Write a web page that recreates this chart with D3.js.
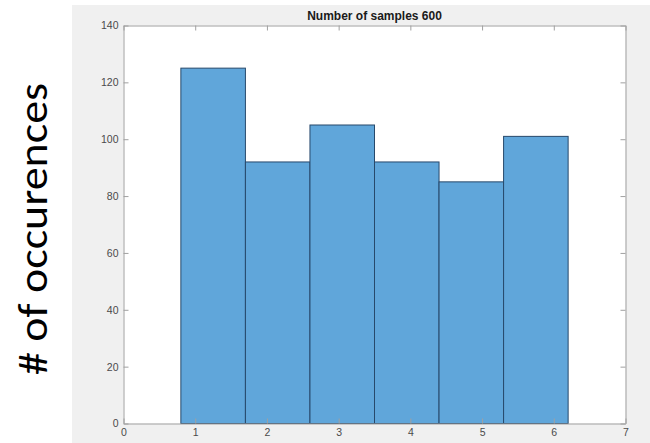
<!DOCTYPE html>
<html>
<head>
<meta charset="utf-8">
<script src="https://cdn.jsdelivr.net/npm/d3@7"></script>
<style>
  body { margin: 0; background: #fff; }
  .tick text { font-family: "Liberation Sans", Arial, sans-serif; font-size: 10.5px; fill: #4a4a4a; }
  .domain, .tick line { stroke: #a0a0a0; }
</style>
</head>
<body>
<div class="box"></div>
<script>
// Histogram data
const binEdges = [0.8, 1.7, 2.6, 3.5, 4.4, 5.3, 6.2];
const counts = [125, 92, 105, 92, 85, 101];
const xTicks = [0, 1, 2, 3, 4, 5, 6, 7];
const yTicks = [0, 20, 40, 60, 80, 100, 120, 140];
const titleText = "Number of samples 600";
const yLabel = "# of occurences";

const w = 650;
const h = 443;
// plot box edges (note: "top" is taken by window.top)
const padL = 123.5, padR = 625.5, padT = 25.5, padB = 423.5;

const bins = counts.map((c, i) => ({ x0: binEdges[i], x1: binEdges[i + 1], n: c }));

const xScale = d3.scaleLinear().domain([0, 7]).range([padL, padR]);
const yScale = d3.scaleLinear().domain([0, 140]).range([padB, padT]);

const svg = d3.select(".box")
    .append("svg")
    .attr("width", w)
    .attr("height", h);

// grey figure background
svg.append("rect")
    .attr("x", 72).attr("y", 5)
    .attr("width", w - 72).attr("height", h - 5)
    .style("fill", "#f0f0f0");

// white axes area
svg.append("rect")
    .attr("x", padL).attr("y", padT)
    .attr("width", padR - padL).attr("height", padB - padT)
    .style("fill", "#fff");

// bars
svg.selectAll("rect.bar")
    .data(bins)
    .enter()
    .append("rect")
    .attr("class", "bar")
    .attr("x", d => xScale(d.x0))
    .attr("y", d => yScale(d.n))
    .attr("width", d => xScale(d.x1) - xScale(d.x0))
    .attr("height", d => yScale(0) - yScale(d.n))
    .style("fill", "#60a6da")
    .style("stroke", "#27496b")
    .style("stroke-width", 1);

// axes, ticks pointing inward like matlab
svg.append("g")
    .attr("transform", "translate(0," + padB + ")")
    .call(d3.axisBottom(xScale).tickValues(xTicks).tickFormat(d3.format("d"))
        .tickSizeInner(-5).tickSizeOuter(0).tickPadding(5));

svg.append("g")
    .attr("transform", "translate(0," + padT + ")")
    .call(d3.axisTop(xScale).tickValues(xTicks).tickSizeInner(-5).tickSizeOuter(0).tickFormat(""));

svg.append("g")
    .attr("transform", "translate(" + padL + ",0)")
    .call(d3.axisLeft(yScale).tickValues(yTicks).tickFormat(d3.format("d"))
        .tickSizeInner(-5).tickSizeOuter(0).tickPadding(5));

svg.append("g")
    .attr("transform", "translate(" + padR + ",0)")
    .call(d3.axisRight(yScale).tickValues(yTicks).tickSizeInner(-5).tickSizeOuter(0).tickFormat(""));

svg.selectAll(".domain").style("fill", "none");

// title
svg.append("text")
    .attr("x", (padL + padR) / 2)
    .attr("y", 20)
    .attr("text-anchor", "middle")
    .style("font-family", "Liberation Sans, Arial, sans-serif")
    .style("font-weight", "bold")
    .style("font-size", "12px")
    .style("fill", "#1a1a1a")
    .text(titleText);

// big y label
svg.append("text")
    .attr("transform", "translate(47,229) rotate(-90)")
    .attr("text-anchor", "middle")
    .attr("textLength", 292)
    .attr("lengthAdjust", "spacingAndGlyphs")
    .style("font-family", "Calibri, Carlito, 'Open Sans', sans-serif")
    .style("font-size", "41px")
    .style("fill", "#000")
    .text(yLabel);
</script>
</body>
</html>
